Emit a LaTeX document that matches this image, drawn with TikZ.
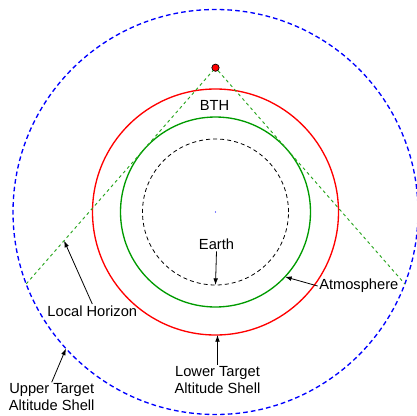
\documentclass[tikz,border=0pt]{standalone}
\usepackage{fontspec}
\setmainfont{Liberation Sans}
\usetikzlibrary{arrows.meta}
\usetikzlibrary{calc}

\definecolor{shellgreen}{RGB}{0,155,0}
\definecolor{horizongreen}{RGB}{40,165,30}

\begin{document}
\begin{tikzpicture}[x=0.75pt, y=0.75pt,
		lbl/.style={font=\fontsize{11}{12.75}\selectfont, inner sep=1pt, align=center},
		pointer/.style={-{Latex[length=5pt, width=3.5pt]}, line width=0.6pt}]
		\useasboundingbox (-215.5,-203) rectangle (201.5,212);
		\coordinate (centre) at (0,0);
		\draw [blue, line width=1pt, dash pattern=on 3.5pt off 2.3pt] (centre) circle (202.5);
		\draw [red, line width=1pt] (centre) circle (123);
		\draw [shellgreen, line width=1pt] (centre) circle (95);
		\draw [black, line width=0.6pt, dash pattern=on 3pt off 2.3pt] (centre) circle (73);
		\fill [blue] (centre) circle (0.6);
		\coordinate (hzleft) at (200.8:202.5);
		\coordinate (hzright) at (-20.8:202.5);
		\node (sat) [circle, fill=red, draw=black, line width=0.5pt, inner sep=0pt, minimum size=5.5pt] at (0,144.3) {};
		\draw [horizongreen, line width=0.7pt, dash pattern=on 2.3pt off 2.3pt] (hzleft) -- (sat) -- (hzright);
		\node (bth) [lbl] at (-1,106.7) {BTH};
		\node (earth) [lbl] at (1,-32.3) {Earth};
		\coordinate (earthpt) at (0,-73);
		\draw [pointer] (earth.south) -- (earthpt);
		\node (atmo) [lbl] at (143.3,-74) {Atmosphere};
		\coordinate (atmopt) at (-43:95);
		\draw [pointer] (atmo.west) -- (atmopt);
		\node (horizon) [lbl] at (-123.2,-99) {Local Horizon};
		\coordinate (horizonpt) at ($(sat)!0.8!(hzleft)$);
		\draw [pointer] (horizon.north) -- (horizonpt);
		\node (lower) [lbl] at (2,-168) {Lower Target\\Altitude Shell};
		\coordinate (lowerpt) at (2,-123);
		\draw [pointer] (lower.north) -- (lowerpt);
		\node (upper) [lbl] at (-163.8,-185.5) {Upper Target\\Altitude Shell};
		\coordinate (upperpt) at (222.4:202.5);
		\draw [pointer] (upper.north) -- (upperpt);
	\end{tikzpicture}
\end{document}
